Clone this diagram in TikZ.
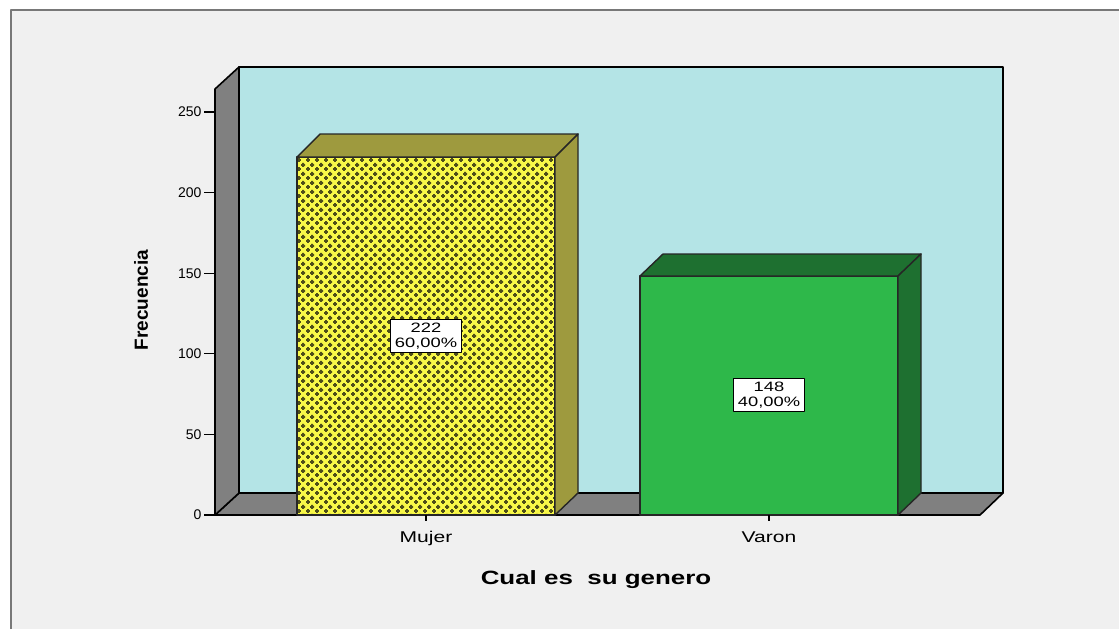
\documentclass[tikz,border=0pt]{standalone}
\usepackage{fontspec}
\usepackage{tikz}
\usetikzlibrary{patterns}
\setmainfont{Liberation Sans}
\newfontfamily\spss[FakeStretch=1.35]{Liberation Sans}

\definecolor{fondo}{RGB}{240,240,240}
\definecolor{marco}{RGB}{120,120,120}
\definecolor{pared}{RGB}{180,228,230}
\definecolor{piso}{RGB}{128,128,128}
\definecolor{amarillo}{RGB}{248,248,72}
\definecolor{cruz}{RGB}{78,78,26}
\definecolor{oliva}{RGB}{158,154,62}
\definecolor{verde}{RGB}{46,184,74}
\definecolor{verdeosc}{RGB}{30,112,48}

% crosses on the yellow bar
\pgfdeclarepatternformonly{cruces}{\pgfpoint{0pt}{0pt}}{\pgfpoint{4.5pt}{4.5pt}}{\pgfpoint{4.5pt}{4.5pt}}{
  \pgfpathrectangle{\pgfpoint{0.05pt}{0.625pt}}{\pgfpoint{2.15pt}{1pt}}
  \pgfpathrectangle{\pgfpoint{0.625pt}{0.05pt}}{\pgfpoint{1pt}{2.15pt}}
  \pgfpathrectangle{\pgfpoint{2.3pt}{2.875pt}}{\pgfpoint{2.15pt}{1pt}}
  \pgfpathrectangle{\pgfpoint{2.875pt}{2.3pt}}{\pgfpoint{1pt}{2.15pt}}
  \pgfusepath{fill}
}

\begin{document}
\begin{tikzpicture}[x=0.5pt,y=-0.5pt,line join=round,
                    semithick]
  \tikzstyle{caja}=[draw=black,line width=0.8pt]
  \tikzstyle{barra}=[draw=black!85,line width=0.7pt]
  \tikzstyle{valor}=[fill=white,draw=black,line width=0.4pt,align=center,
                     inner xsep=2.2pt,inner ysep=1.6pt,font=\spss\fontsize{6.8}{7.8}\selectfont]
  \tikzstyle{eje}=[font=\fontsize{7}{8}\selectfont,inner sep=1pt]

  \useasboundingbox (0,0) rectangle (1119,629);
  \fill[white] (0,0) rectangle (1119,629);
  \fill[fondo] (11,10) rectangle (1119,629);
  \draw[marco,line width=1.2pt] (11,629) -- (11,10) -- (1119,10);

  % walls and floor
  \draw[caja,fill=pared] (239,67) rectangle (1003,493);
  \draw[caja,fill=piso] (215,515) -- (239,493) -- (1003,493) -- (980,515) -- cycle;
  \draw[caja,fill=piso] (215,89) -- (239,67) -- (239,493) -- (215,515) -- cycle;

  % Mujer
  \draw[barra,preaction={fill=amarillo},pattern=cruces,pattern color=cruz]
    (297,157) rectangle (555,515);
  \draw[barra,fill=oliva] (297,157) -- (320,134) -- (578,134) -- (555,157) -- cycle;
  \draw[barra,fill=oliva] (555,157) -- (578,134) -- (578,493) -- (555,515) -- cycle;

  % Varon
  \draw[barra,fill=verde] (640,276) rectangle (898,515);
  \draw[barra,fill=verdeosc] (640,276) -- (663,254) -- (921,254) -- (898,276) -- cycle;
  \draw[barra,fill=verdeosc] (898,276) -- (921,254) -- (921,493) -- (898,515) -- cycle;

  \node[valor] (vmujer) at (426,336) {222\\60,00\%};
  \node[valor] (vvaron) at (769,395) {148\\40,00\%};

  % y axis
  \foreach \v in {0,50,...,250}{
    \node[eje,anchor=east] (y\v) at (204,{515-1.612*\v}) {\v};
    \draw[line width=0.6pt] (y\v.east) -- ++(11,0);
  }
  \node[font=\bfseries\fontsize{9.5}{11}\selectfont,rotate=90] (frec) at (141,300) {Frecuencia};

  % x axis
  \coordinate (tmujer) at (426,515);
  \coordinate (tvaron) at (769,515);
  \draw[line width=0.6pt] (tmujer) -- ++(0,6);
  \draw[line width=0.6pt] (tvaron) -- ++(0,6);
  \node[font=\spss\fontsize{7.8}{9}\selectfont,anchor=base] (mujer) at (426,542) {Mujer};
  \node[font=\spss\fontsize{7.8}{9}\selectfont,anchor=base] (varon) at (769,542) {Varon};
  \node[font=\spss\bfseries\fontsize{9.6}{11}\selectfont,anchor=base] (titulo) at (596,584) {Cual es \ su genero};
\end{tikzpicture}
\end{document}
